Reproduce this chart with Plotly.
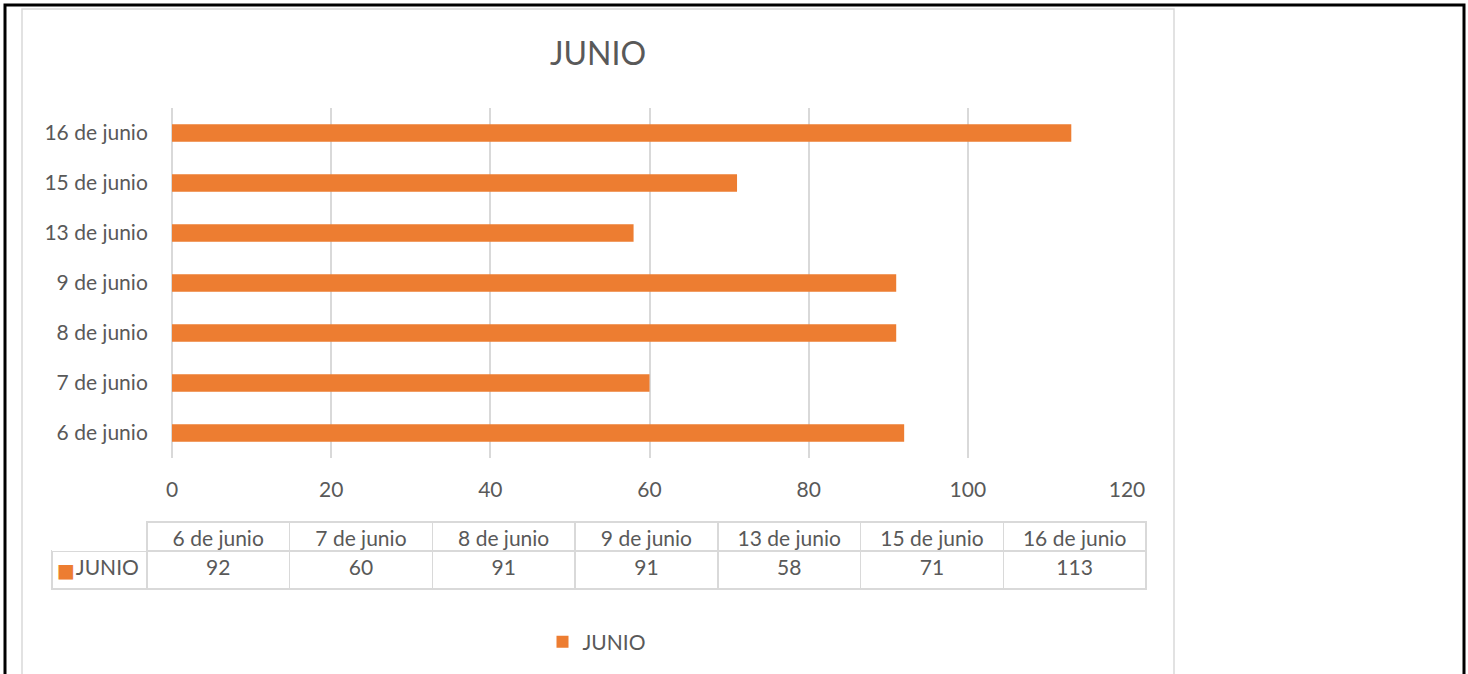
import plotly.graph_objects as go

# data
dias = ["6 de junio", "7 de junio", "8 de junio", "9 de junio",
        "13 de junio", "15 de junio", "16 de junio"]
junio = [92, 60, 91, 91, 58, 71, 113]
serie = "JUNIO"
ticks_x = [0, 20, 40, 60, 80, 100, 120]

W, H = 1468, 674
naranja = "#ED7D31"
gris_txt = "#595959"
gris_lin = "#D9D9D9"
fuente = "Lato"


def px(x):
    return x / W


def py(y):
    return 1 - y / H


bars = go.Bar(
    x=junio, y=dias, orientation="h", name=serie,
    marker=dict(color=naranja, line_width=0),
)

# data table under the axis (Excel style)
tabla = go.Table(
    domain=dict(x=[px(52), px(1146)], y=[py(620), py(522)]),
    columnwidth=[95] + [143] * len(dias),
    header=dict(
        values=[""] + dias,
        height=29,
        align="center",
        fill_color="white",
        line=dict(color=["rgba(0,0,0,0)"] + [gris_lin] * len(dias), width=1.5),
        font=dict(family=fuente, size=21, color=gris_txt),
    ),
    cells=dict(
        values=[[serie]] + [[v] for v in junio],
        height=38,
        align=["right"] + ["center"] * len(dias),
        fill_color="white",
        line=dict(color=gris_lin, width=1.5),
        font=dict(family=fuente, size=21, color=gris_txt),
    ),
)

fig = go.Figure(data=[bars, tabla])

fig.update_layout(
    width=W, height=H,
    margin=dict(l=0, r=0, t=0, b=0, pad=0, autoexpand=False),
    paper_bgcolor="white", plot_bgcolor="white",
    font=dict(family=fuente, size=21, color=gris_txt),
    title=dict(text="JUNIO", x=px(598), xanchor="center", y=py(54), yanchor="middle",
               font=dict(family=fuente, size=32, color=gris_txt)),
    bargap=0.65,
    showlegend=True,
    legend=dict(orientation="h", x=px(597), xanchor="center", y=py(642), yanchor="middle",
                font=dict(family=fuente, size=21, color=gris_txt)),
    xaxis=dict(domain=[px(172), px(1127)], range=[0, 120], tickvals=ticks_x,
               showgrid=True, gridcolor=gris_lin, gridwidth=1.5, zeroline=True,
               zerolinecolor=gris_lin, zerolinewidth=1.5, showline=False, automargin=False,
               ticks="outside", ticklen=13, tickcolor="rgba(0,0,0,0)"),
    yaxis=dict(domain=[py(458), py(108)], showgrid=False, showline=False, automargin=False,
               ticks="outside", ticklen=19, tickcolor="rgba(0,0,0,0)"),
    shapes=[
        dict(type="rect", xref="paper", yref="paper", x0=px(5), x1=px(1464), y0=py(690), y1=py(5),
             line=dict(color="black", width=3)),
        dict(type="rect", xref="paper", yref="paper", x0=px(22), x1=px(1174), y0=py(690), y1=py(9),
             line=dict(color=gris_lin, width=1.5)),
    ],
    # legend key inside the data table's series cell
    annotations=[
        dict(text="■", xref="paper", yref="paper", x=px(66), y=py(570), xanchor="center",
             yanchor="middle", showarrow=False,
             font=dict(family="DejaVu Sans", size=19, color=naranja)),
    ],
)

fig.write_html("out.html", config={"displayModeBar": False},
               post_script="document.body.style.margin='0';document.body.style.overflow='hidden';")
